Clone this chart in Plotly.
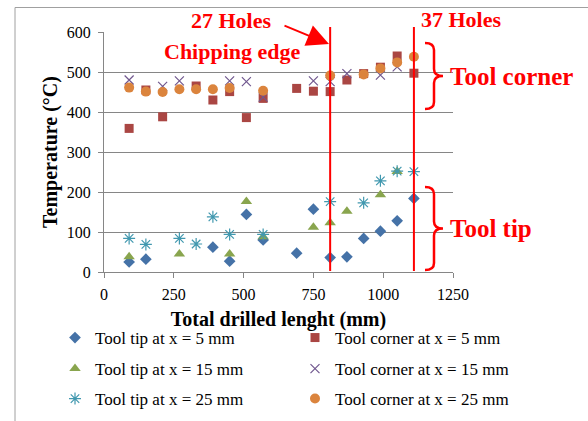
import plotly.graph_objects as go

# ---- data ----
tip5_x = [90, 150, 390, 450, 510, 570, 690, 750, 810, 870, 930, 990, 1050, 1110]
tip5_y = [25, 32, 62, 27, 144, 80, 47, 157, 36, 38, 84, 102, 128, 184]

corner5_x = [90, 150, 210, 330, 390, 450, 510, 570, 690, 750, 810, 870, 930, 990, 1050, 1110]
corner5_y = [359, 455, 388, 465, 430, 451, 386, 434, 459, 452, 451, 480, 496, 512, 540, 497]

tip15_x = [90, 270, 450, 510, 570, 750, 810, 870, 990, 1050]
tip15_y = [38, 45, 45, 176, 88, 112, 123, 152, 193, 251]

corner15_x = [90, 210, 270, 450, 510, 570, 750, 810, 870, 990, 1050]
corner15_y = [480, 464, 478, 478, 476, 437, 478, 476, 496, 492, 513]

tip25_x = [90, 150, 270, 330, 390, 450, 570, 810, 930, 990, 1050, 1110]
tip25_y = [84, 69, 84, 70, 138, 94, 94, 176, 173, 228, 252, 251]

corner25_x = [90, 150, 210, 270, 330, 390, 450, 570, 810, 930, 990, 1050, 1110]
corner25_y = [461, 451, 450, 457, 457, 457, 460, 453, 491, 494, 509, 524, 538]

hole_lines_x = [810, 1110]   # 27 holes, 37 holes
x_ticks = [0, 250, 500, 750, 1000, 1250]
y_ticks = [0, 100, 200, 300, 400, 500, 600]

# ---- layout geometry (pixels) ----
W, H = 588, 421
L, R, T, B = 104, 135, 32, 149
PW, PH = W - L - R, H - T - B


def px(x):
    return (x - L) / PW


def py(y):
    return (H - B - y) / PH


FONT = "Liberation Serif, Times New Roman, serif"
RED = "#FF0000"
GRID = "#868686"

fig = go.Figure()

# (name, x, y, marker, legend id, legend text-start px, legend row centre px)
series = [
    ("Tool tip at x = 5 mm", tip5_x, tip5_y, dict(symbol="diamond", size=9, color="#4572A7"), "legend", 95, 338),
    ("Tool corner at x = 5 mm", corner5_x, corner5_y, dict(symbol="square", size=9, color="#AA4643"), "legend2", 335, 338),
    ("Tool tip at x = 15 mm", tip15_x, tip15_y, dict(symbol="triangle-up", size=10, color="#89A54E"), "legend3", 95, 369),
    ("Tool corner at x = 15 mm", corner15_x, corner15_y,
     dict(symbol="x-thin-open", size=9, color="#71588F", line=dict(width=1.2, color="#71588F")), "legend4", 335, 369),
    ("Tool tip at x = 25 mm", tip25_x, tip25_y,
     dict(symbol="asterisk-open", size=10, color="#4198AF", line=dict(width=1.2, color="#4198AF")), "legend5", 95, 399),
    ("Tool corner at x = 25 mm", corner25_x, corner25_y, dict(symbol="circle", size=10, color="#DB843D"), "legend6", 335, 399),
]
legends = {}
for name, xs, ys, mk, lg, tx, ty in series:
    fig.add_trace(go.Scatter(x=xs, y=ys, mode="markers", name=name, marker=mk, legend=lg,
                             showlegend=True))
    legends[lg] = dict(x=px(tx - 40), y=py(ty), xanchor="left", yanchor="middle",
                       orientation="v", bgcolor="rgba(0,0,0,0)", itemwidth=30, visible=True,
                       font=dict(family=FONT, size=17, color="black"))

# vertical red lines at 27 and 37 holes
for xv in hole_lines_x:
    fig.add_shape(type="line", xref="x", yref="paper", x0=xv, x1=xv, y0=py(271), y1=py(27),
                  line=dict(color=RED, width=2))


def brace(x0, x1, ytop, ybot):
    ym = (ytop + ybot) / 2
    xm = (x0 + x1) / 2
    r = 7
    pts = [
        f"M {px(x0)},{py(ytop)}",
        f"Q {px(xm)},{py(ytop)} {px(xm)},{py(ytop + r)}",
        f"L {px(xm)},{py(ym - r)}",
        f"Q {px(xm)},{py(ym)} {px(x1)},{py(ym)}",
        f"Q {px(xm)},{py(ym)} {px(xm)},{py(ym + r)}",
        f"L {px(xm)},{py(ybot - r)}",
        f"Q {px(xm)},{py(ybot)} {px(x0)},{py(ybot)}",
    ]
    return " ".join(pts)


fig.add_shape(type="path", xref="paper", yref="paper", path=brace(425, 443, 43, 109),
              line=dict(color=RED, width=2.5))
fig.add_shape(type="path", xref="paper", yref="paper", path=brace(425, 443, 187, 270),
              line=dict(color=RED, width=2.5))

# outer chart border (top and left edges visible)
fig.add_shape(type="rect", xref="paper", yref="paper", x0=px(15), x1=px(600), y0=py(430), y1=py(7.5),
              line=dict(color="#A0A0A0", width=1), layer="below")

ann = [
    dict(text="<b>27 Holes</b>", x=px(231), y=py(21), size=22),
    dict(text="<b>Chipping edge</b>", x=px(232), y=py(51), size=22),
    dict(text="<b>37 Holes</b>", x=px(461), y=py(20), size=22),
]
for a in ann:
    fig.add_annotation(text=a["text"], x=a["x"], y=a["y"], xref="paper", yref="paper",
                       showarrow=False, xanchor="center", yanchor="middle",
                       font=dict(family=FONT, size=a["size"], color=RED))
for t, yc in [("<b>Tool corner</b>", 76), ("<b>Tool tip</b>", 228)]:
    fig.add_annotation(text=t, x=px(448), y=py(yc), xref="paper", yref="paper",
                       showarrow=False, xanchor="left", yanchor="middle",
                       font=dict(family=FONT, size=25, color=RED))

# arrow to the chipping edge line
fig.add_annotation(text="", x=px(329), y=py(44), xref="paper", yref="paper",
                   ax=-46, ay=-19, showarrow=True, arrowhead=2, arrowsize=2.2,
                   arrowwidth=2, arrowcolor=RED, standoff=0)

fig.update_layout(
    width=W, height=H,
    showlegend=True,
    margin=dict(l=L, r=R, t=T, b=B, autoexpand=False),
    paper_bgcolor="white", plot_bgcolor="white",
    font=dict(family=FONT, size=16, color="black"),
    xaxis=dict(range=[0, 1250], tickvals=x_ticks, showgrid=False, zeroline=False,
               showline=True, linecolor=GRID, linewidth=1, ticks="outside", ticklen=5,
               tickcolor=GRID, ticklabelstandoff=3,
               tickfont=dict(family=FONT, size=16, color="black"),
               title=dict(text="<b>Total drilled lenght (mm)</b>", standoff=9,
                          font=dict(family=FONT, size=20, color="black"))),
    yaxis=dict(range=[0, 600], tickvals=y_ticks, showgrid=True, gridcolor=GRID, gridwidth=1,
               zeroline=False, showline=True, linecolor=GRID, linewidth=1, ticks="outside",
               ticklen=5, tickcolor=GRID, ticklabelstandoff=4,
               tickfont=dict(family=FONT, size=16, color="black"),
               title=dict(text="<b>Temperature (°C)</b>", standoff=3,
                          font=dict(family=FONT, size=20, color="black"))),
    **legends,
)

fig.write_html("out.html", config={"displayModeBar": False},
               post_script="document.body.style.margin='0';")
